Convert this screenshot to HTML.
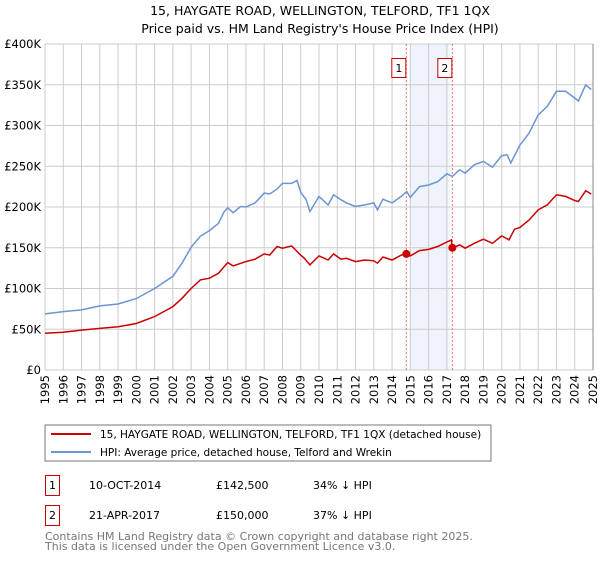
<!DOCTYPE html>
<html><head><meta charset="utf-8"><style>
body{margin:0;background:#fff;font-family:"Liberation Sans","DejaVu Sans",sans-serif;}
svg text{font-family:"DejaVu Sans","Liberation Sans",sans-serif;}
</style></head><body>
<svg id="c" width="600" height="560" viewBox="0 0 600 560">
<text x="320" y="15" text-anchor="middle" font-size="12.5">15, HAYGATE ROAD, WELLINGTON, TELFORD, TF1 1QX</text>
<text x="320" y="33" text-anchor="middle" font-size="12.5">Price paid vs. HM Land Registry's House Price Index (HPI)</text>
<g id="grid"></g><g id="series"></g><g id="axes"></g>
<rect x="45" y="425" width="446" height="36" fill="#fff" stroke="#777"/>
<line x1="51" y1="434" x2="91" y2="434" stroke="#cc0000" stroke-width="2"/>
<text x="100" y="438" font-size="10.5">15, HAYGATE ROAD, WELLINGTON, TELFORD, TF1 1QX (detached house)</text>
<line x1="51" y1="452" x2="91" y2="452" stroke="#6a95d2" stroke-width="2"/>
<text x="100" y="456" font-size="10.5">HPI: Average price, detached house, Telford and Wrekin</text>
<g>
<rect x="45.5" y="475.5" width="14" height="20" fill="#fff" stroke="#cc0000"/>
<text x="52.5" y="489" text-anchor="middle" font-size="11">1</text>
<text x="89" y="489" font-size="11">10-OCT-2014</text>
<text x="216" y="489" font-size="11">£142,500</text>
<text x="313" y="489" font-size="11">34% ↓ HPI</text></g>
<g>
<rect x="45.5" y="505.5" width="14" height="20" fill="#fff" stroke="#cc0000"/>
<text x="52.5" y="519" text-anchor="middle" font-size="11">2</text>
<text x="89" y="519" font-size="11">21-APR-2017</text>
<text x="216" y="519" font-size="11">£150,000</text>
<text x="313" y="519" font-size="11">37% ↓ HPI</text></g>
<text x="45" y="540" font-size="11" fill="#777">Contains HM Land Registry data © Crown copyright and database right 2025.</text>
<text x="45" y="550" font-size="11" fill="#777">This data is licensed under the Open Government Licence v3.0.</text>
</svg>
<script>
const yTicks=[0,50,100,150,200,250,300,350,400];
const yTickLabels=["£0","£50K","£100K","£150K","£200K","£250K","£300K","£350K","£400K"];
const xYears=[1995,1996,1997,1998,1999,2000,2001,2002,2003,2004,2005,2006,2007,2008,2009,2010,2011,2012,2013,2014,2015,2016,2017,2018,2019,2020,2021,2022,2023,2024,2025];
const hpiT=[1995,1996,1997,1998,1999,2000,2001,2002,2002.5,2003,2003.5,2004,2004.5,2004.8,2005,2005.3,2005.7,2006,2006.5,2007,2007.3,2007.7,2008,2008.5,2008.8,2009,2009.3,2009.5,2010,2010.5,2010.8,2011.2,2011.5,2012,2012.5,2013,2013.2,2013.5,2014,2014.5,2014.8,2015,2015.5,2016,2016.5,2017,2017.3,2017.7,2018,2018.5,2019,2019.5,2020,2020.3,2020.5,2021,2021.5,2022,2022.5,2023,2023.5,2024,2024.2,2024.6,2024.9];
const hpiV=[68.8,71.6,73.7,78.6,81,87.6,100,115,131,150.7,164,171,180,194,199,193,200.6,200,205,217,216,222,229,229,232.5,218,209,194.4,213,202.6,215,209,205,200.6,202.6,205,196.5,209.6,205,213,219,211.7,225,227,231,240.7,237.5,245.6,241.5,251.8,256,249,263,264,254,276,290.7,313,323.5,342,342,333.7,330,350,344];
const priceT=[1995,1996,1997,1998,1999,2000,2001,2002,2002.5,2003,2003.5,2004,2004.5,2005,2005.3,2006,2006.5,2007,2007.3,2007.7,2008,2008.5,2009,2009.2,2009.5,2010,2010.5,2010.8,2011.2,2011.5,2012,2012.5,2013,2013.2,2013.5,2014,2014.5,2014.78,2015,2015.5,2016,2016.5,2017,2017.25,2017.3,2017.7,2018,2018.5,2019,2019.5,2020,2020.4,2020.7,2021,2021.5,2022,2022.5,2023,2023.5,2024,2024.2,2024.6,2024.9];
const priceV=[45,46.3,49,51,53,57,65.5,77.8,88,100,110.5,112.6,118.7,131.8,127.7,133,136,142.5,141,151.5,149.4,152.3,141,137,129,140,135,142.5,136,137,133,135,134,131,138.6,135,141,142.5,140,146.5,148,151.5,157,159.6,149.4,153.5,149.4,155.5,160.5,155.5,164.6,159.6,172.7,175,184,196.5,202.6,215,213,208,206.7,220,216];
const saleT=[2014.78,2017.3];
const saleV=[142.5,150];
const saleLabels=["1","2"];
const NS="http://www.w3.org/2000/svg";
const X0=45,X1=593,Y0=370,Y1=44;
const xs=t=>X0+(t-1995)/30*(X1-X0);
const ys=v=>Y0-v/400*(Y0-Y1);
function mk(tag,attrs,parent){const e=document.createElementNS(NS,tag);for(const k in attrs)e.setAttribute(k,attrs[k]);parent.appendChild(e);return e;}
const grid=document.getElementById('grid'),ser=document.getElementById('series'),ax=document.getElementById('axes');
const shade=mk('rect',{x:xs(2015),y:Y1,width:xs(2017.1)-xs(2015),height:Y0-Y1,fill:'#eef3fc'},grid);


yTicks.forEach((v,i)=>{
 const l=mk('line',{x1:X0,x2:X1,y1:ys(v),y2:ys(v),stroke:'#ccc'},grid);
 
 
 const t=mk('text',{x:X0-4,y:ys(v)+4,'text-anchor':'end','font-size':'11.5'},ax);t.textContent=yTickLabels[i];
 
 
});
xYears.forEach(y=>{
 const l=mk('line',{x1:xs(y),x2:xs(y),y1:Y1,y2:Y0,stroke:'#ccc'},grid);
 
 
 const t=mk('text',{x:0,y:0,'text-anchor':'end','font-size':'11.5',transform:`translate(${xs(y)+4},375) rotate(-90)`},ax);t.textContent=y;
 
 
});
saleT.forEach((t,i)=>{
 const l=mk('line',{x1:xs(t),x2:xs(t),y1:Y1,y2:Y0,stroke:'#f07070','stroke-dasharray':'2,2'},grid);
 
 
 const r=mk('rect',{x:xs(t)-14.5,y:58.5,width:14,height:19,fill:'#fff',stroke:'#cc0000'},ax);
 
 
 const tx=mk('text',{x:xs(t)-7.5,y:72,'text-anchor':'middle','font-size':'11'},ax);tx.textContent=saleLabels[i];
 
 
});
function line(T,V,col,name){const p=mk('path',{d:T.map((t,i)=>(i?'L':'M')+xs(t).toFixed(1)+','+ys(V[i]).toFixed(1)).join(''),fill:'none',stroke:col,'stroke-width':1.5},ser);
 
 }
line(hpiT,hpiV,'#6a95d2','hpi-line');
line(priceT,priceV,'#cc0000','price-line');
saleT.forEach((t,i)=>{
 const c=mk('circle',{cx:xs(t),cy:ys(saleV[i]),r:4,fill:'#cc0000'},ser);
 
 
});
const bl=mk('line',{x1:X1,x2:X1,y1:Y1,y2:Y0,stroke:'#888'},ax);


</script>
</body></html>
